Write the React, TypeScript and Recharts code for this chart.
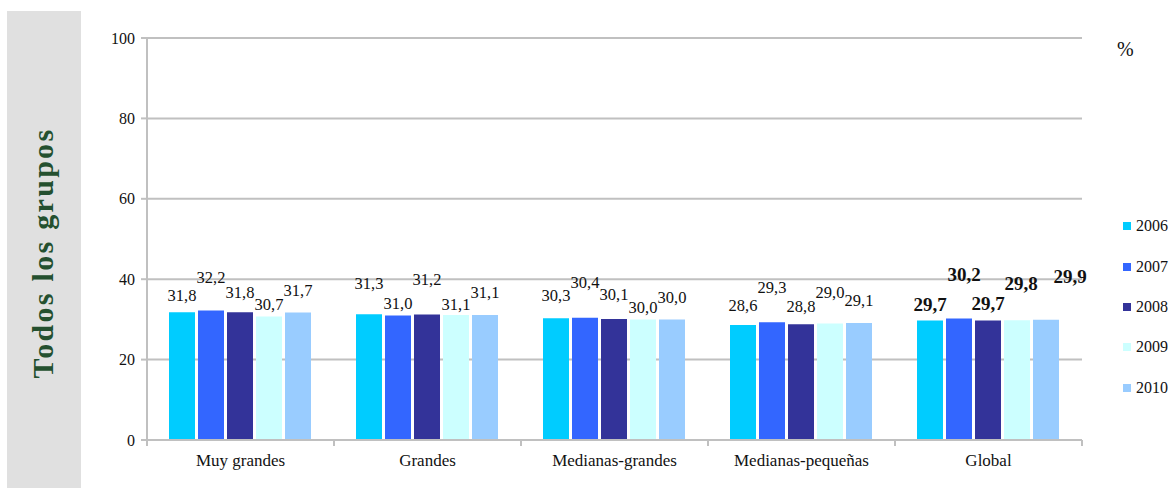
import React from "react";
import { BarChart, Bar, XAxis, YAxis, CartesianGrid, LabelList } from "recharts";

const categories = ["Muy grandes", "Grandes", "Medianas-grandes", "Medianas-pequeñas", "Global"];
const years = ["2006", "2007", "2008", "2009", "2010"];
const y2006 = [31.8, 31.3, 30.3, 28.6, 29.7];
const y2007 = [32.2, 31.0, 30.4, 29.3, 30.2];
const y2008 = [31.8, 31.2, 30.1, 28.8, 29.7];
const y2009 = [30.7, 31.1, 30.0, 29.0, 29.8];
const y2010 = [31.7, 31.1, 30.0, 29.1, 29.9];
const yTicks = [0, 20, 40, 60, 80, 100];

const colors = ["#00CCFF", "#3366FF", "#333399", "#CCFFFF", "#99CCFF"];
// label placement as in the original (distance above bar top, px)
const labelLift = [
  [17, 31, 23, 20, 16],
  [33, 12, 35, 35, 44],
  [20, 35, 24, 18, 17],
  [12, 10, 12, 31, 37],
  [22, 22, 22, 23, 43],
];
const labelShift = [
  [0, 0, 0, 0, 0],
  [0, 0, 0, 0, 5],
  [0, 0, 0, 0, 0],
  [0, 0, 0, 0, 4],
  [0, 0, 0, 0, 24],
];

const series = [y2006, y2007, y2008, y2009, y2010];
const data = categories.map((name, i) => {
  const row: Record<string, string | number> = { name };
  years.forEach((yr, s) => (row[yr] = series[s][i]));
  return row;
});

const FONT = "Liberation Serif, Times New Roman, serif";
const BAND = (1082 - 147) / categories.length;

const fmt = (v: number) => v.toFixed(1).replace(".", ",");

const makeLabel = (s: number) => (props: any) => {
  const { x, y, width, value, index } = props;
  const bold = index === categories.length - 1;
  return (
    <text
      x={x + width / 2 + labelShift[s][index]}
      y={y - labelLift[s][index]}
      textAnchor="middle"
      dominantBaseline="central"
      style={{ fontFamily: FONT }}
      fontSize={bold ? 19 : 16.5}
      fontWeight={bold ? "bold" : "normal"}
      fill="#111"
    >
      {fmt(value)}
    </text>
  );
};

const CatTick = (props: any) => {
  const { x, y, payload, index } = props;
  const left = x - BAND / 2;
  return (
    <g>
      <line x1={left} y1={y - 8} x2={left} y2={y - 2} stroke="#c0c0c0" strokeWidth={2} />
      {index === categories.length - 1 && (
        <line x1={left + BAND} y1={y - 8} x2={left + BAND} y2={y - 2} stroke="#c0c0c0" strokeWidth={2} />
      )}
      <text x={x} y={y + 18} textAnchor="middle" style={{ fontFamily: FONT }} fontSize={17} fill="#111">
        {payload.value}
      </text>
    </g>
  );
};

const NumTick = (props: any) => {
  const { x, y, payload } = props;
  return (
    <text x={x - 4} y={y} textAnchor="end" dominantBaseline="central" style={{ fontFamily: FONT }} fontSize={16} fill="#111">
      {payload.value}
    </text>
  );
};

export default function App() {
  return (
    <div style={{ position: "absolute", left: 0, top: 0, width: 1173, height: 488, background: "#fff", fontFamily: FONT }}>
      <div
        style={{
          position: "absolute",
          left: 7,
          top: 11,
          width: 74,
          height: 477,
          background: "#e0e0e0",
        }}
      />
      <div
        style={{
          position: "absolute",
          left: 43,
          top: 253,
          transform: "translate(-50%, -50%) rotate(-90deg)",
          whiteSpace: "nowrap",
          fontWeight: "bold",
          fontSize: 30,
          letterSpacing: 2.3,
          color: "#24502f",
        }}
      >
        Todos los grupos
      </div>
      <div style={{ position: "absolute", left: 1117, top: 38, fontSize: 20, color: "#111" }}>%</div>
      <div style={{ position: "absolute", left: 1123, top: 206, fontSize: 16, color: "#111" }}>
        {years.map((yr, i) => (
          <div key={yr} style={{ display: "flex", alignItems: "center", height: 40.4 }}>
            <span style={{ width: 8, height: 8, background: colors[i], marginRight: 5, display: "inline-block" }} />
            {yr}
          </div>
        ))}
      </div>
      <div style={{ position: "absolute", left: 0, top: 0 }}>
        <BarChart
          width={1173}
          height={488}
          data={data}
          margin={{ top: 38, right: 91, bottom: 0, left: 107 }}
          barGap={3}
          barCategoryGap={22}
        >
          <CartesianGrid vertical={false} stroke="#c0c0c0" strokeWidth={2} />
          <XAxis
            dataKey="name"
            height={48}
            axisLine={{ stroke: "#c0c0c0", strokeWidth: 2 }}
            tickLine={false}
            tick={<CatTick />}
            interval={0}
          />
          <YAxis
            domain={[0, 100]}
            ticks={yTicks}
            width={40}
            axisLine={{ stroke: "#c0c0c0", strokeWidth: 2 }}
            tickLine={{ stroke: "#c0c0c0", strokeWidth: 2 }}
            tickSize={6}
            tick={<NumTick />}
          />
          <YAxis
            yAxisId="r"
            orientation="right"
            domain={[0, 100]}
            width={0}
            tick={false}
            tickLine={false}
            axisLine={{ stroke: "#c0c0c0", strokeWidth: 2 }}
          />
          {years.map((yr, s) => (
            <Bar key={yr} dataKey={yr} fill={colors[s]} isAnimationActive={false}>
              <LabelList dataKey={yr} content={makeLabel(s)} />
            </Bar>
          ))}
        </BarChart>
      </div>
    </div>
  );
}
